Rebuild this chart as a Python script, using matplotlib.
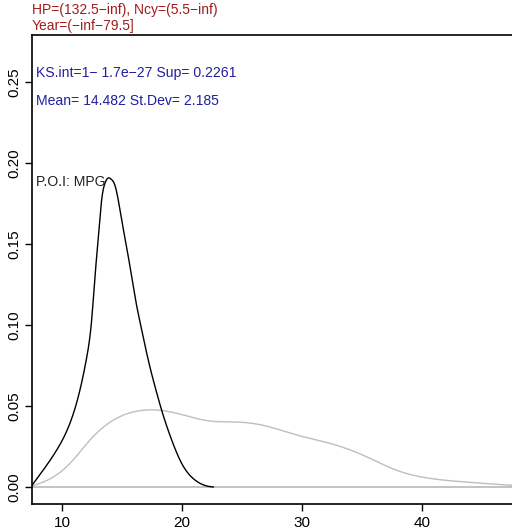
import matplotlib
matplotlib.use("Agg")
import matplotlib.pyplot as plt
import numpy as np

plt.rcParams['font.family'] = ['Liberation Sans', 'DejaVu Sans']

# Black density (subgroup)
sub_x = [7.5, 8.44, 9.56, 10.67, 11.5, 12.06, 12.47, 12.75, 13.03, 13.3, 13.58, 13.8,
         14.1, 14.42, 14.97, 15.53, 16.08, 16.64, 17.2, 17.75, 18.3, 19.14, 19.97, 21.08, 22.2, 22.6]
sub_y = [0.001, 0.0105, 0.0228, 0.0395, 0.060, 0.080, 0.103, 0.130, 0.1545, 0.177, 0.1875, 0.1905,
         0.1900, 0.1860, 0.165, 0.142, 0.1175, 0.097, 0.078, 0.062, 0.0475, 0.029, 0.0146, 0.0043, 0.0004, 0.0]

# Gray density (population)
pop_x = [7.5, 9.0, 10.67, 12.33, 14.0, 15.67, 17.9, 19.83, 22.06, 24.83, 26.8, 29.6, 32.3, 35.1, 37.9, 40.67, 43.4, 47.5]
pop_y = [0.0006, 0.005, 0.0146, 0.029, 0.040, 0.0458, 0.0475, 0.045, 0.041, 0.040, 0.038, 0.032, 0.027, 0.0196, 0.0103, 0.0053, 0.0032, 0.001]

x_ticks = [10, 20, 30, 40]
y_ticks = [0.00, 0.05, 0.10, 0.15, 0.20, 0.25]

title_lines = ["HP=(132.5\u2212inf), Ncy=(5.5\u2212inf)", "Year=(\u2212inf\u221279.5]"]
ks_text = "KS.int=1\u2212 1.7e\u221227 Sup= 0.2261"
mean_text = "Mean= 14.482 St.Dev= 2.185"
poi_text = "P.O.I: MPG"

def spline(xs, ys, n=400):
    xs = np.asarray(xs, float); ys = np.asarray(ys, float)
    N = len(xs); h = np.diff(xs)
    A = np.zeros((N, N)); b = np.zeros(N)
    A[0, 0] = 1; A[-1, -1] = 1
    for i in range(1, N - 1):
        A[i, i-1] = h[i-1]; A[i, i] = 2 * (h[i-1] + h[i]); A[i, i+1] = h[i]
        b[i] = 6 * ((ys[i+1] - ys[i]) / h[i] - (ys[i] - ys[i-1]) / h[i-1])
    M = np.linalg.solve(A, b)
    t = np.linspace(xs[0], xs[-1], n)
    k = np.clip(np.searchsorted(xs, t, side='right') - 1, 0, N - 2)
    x0 = xs[k]; x1 = xs[k+1]; hk = h[k]
    out = (M[k] * (x1 - t)**3 / (6*hk) + M[k+1] * (t - x0)**3 / (6*hk)
           + (ys[k] / hk - M[k]*hk/6) * (x1 - t) + (ys[k+1] / hk - M[k+1]*hk/6) * (t - x0))
    return t, np.clip(out, 0, None)

fig = plt.figure(figsize=(5.12, 5.32), dpi=100)
ax = fig.add_axes([32/512, 28/532, 480/512, 469/532])

ax.axhline(0, color='#bebebe', lw=1.3, zorder=1)
px, py = spline(pop_x, pop_y)
ax.plot(px, py, color='#bebebe', lw=1.0, zorder=2)
sx, sy = spline(sub_x, sub_y)
ax.plot(sx, sy, color='black', lw=1.0, zorder=3)

ax.set_xlim(7.5, 47.5)
ax.set_ylim(-0.0105, 0.279)
ax.set_xticks(x_ticks)
ax.set_xticklabels([str(v) for v in x_ticks], fontsize=11)
ax.set_yticks(y_ticks)
ax.set_yticklabels([f"{v:.2f}" for v in y_ticks], fontsize=11, rotation=90, va='center')
ax.tick_params(axis='both', direction='out', length=5, width=1)
ax.tick_params(axis='y', pad=2.5)
ax.spines['right'].set_visible(False)
for s in ['left', 'bottom', 'top']:
    ax.spines[s].set_linewidth(1.2)

fig.text(32/512, 1 - 10/532, title_lines[0], color='#a01c1c', fontsize=10, va='center', ha='left')
fig.text(32/512, 1 - 26/532, title_lines[1], color='#a01c1c', fontsize=10, va='center', ha='left')

fig.text(36/512, 1 - 73/532, ks_text, color='#2020a0', fontsize=10.1, va='center', ha='left')
fig.text(36/512, 1 - 101/532, mean_text, color='#2020a0', fontsize=10.1, va='center', ha='left')
fig.text(36/512, 1 - 182/532, poi_text, color='#222222', fontsize=10.1, va='center', ha='left')

fig.savefig("out.png", dpi=100)
